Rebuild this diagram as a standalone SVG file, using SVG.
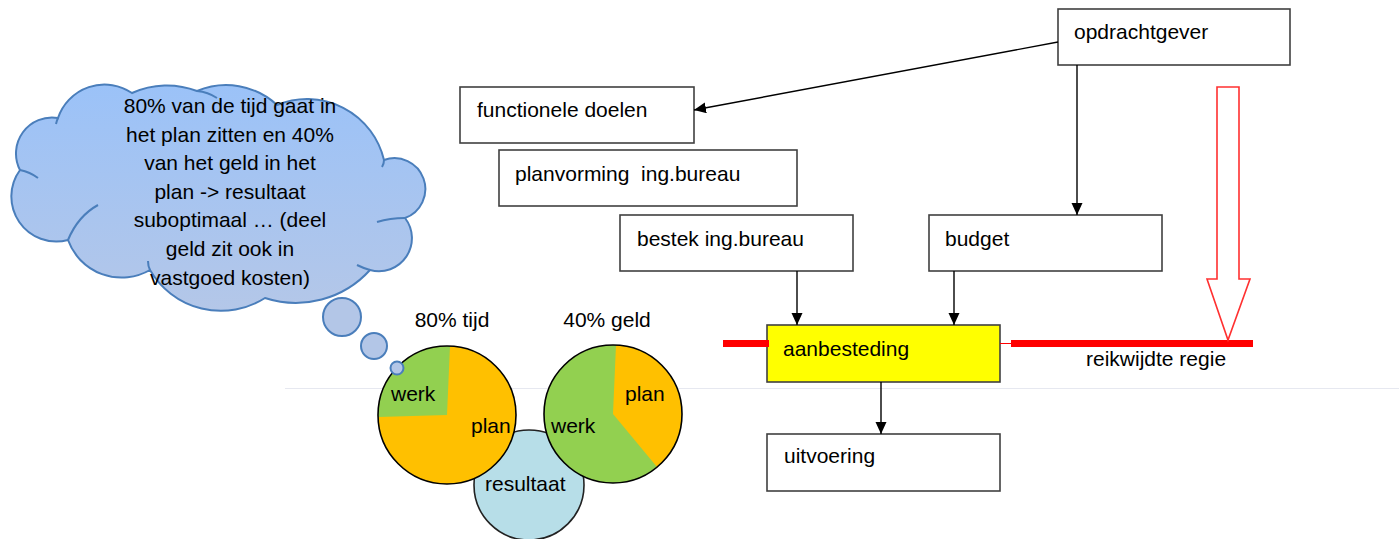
<svg xmlns="http://www.w3.org/2000/svg" width="1399" height="539" viewBox="0 0 1399 539">
<defs>
<style>
text{font-family:"Liberation Sans",Arial,sans-serif;font-size:21px;fill:#000}
.box{fill:#fff;stroke:#404040;stroke-width:1.6}
.con{fill:none;stroke:#000;stroke-width:1.4}
.pie{stroke:#000;stroke-width:1.6;fill:none}
.bub{fill:#B3C6E7;stroke:#4A7EBB;stroke-width:2}
.mid{text-anchor:middle}
</style>
<linearGradient id="cg" x1="0" y1="0" x2="0" y2="1">
<stop offset="0" stop-color="#9BC2F8"/>
<stop offset="1" stop-color="#B4C7E8"/>
</linearGradient>
<marker id="ah" markerUnits="userSpaceOnUse" markerWidth="13" markerHeight="12" refX="12" refY="5.5" orient="auto">
<path d="M0,0 L12,5.5 L0,11 Z" fill="#000"/>
</marker>
</defs>
<rect width="1399" height="539" fill="#fff"/>
<line x1="285" y1="388.5" x2="1399" y2="388.5" stroke="#E6E8F0" stroke-width="1"/>

<g id="cloud">
<path d="M20,170 A36,36 0 0 1 58,118 A49,49 0 0 1 132,93 A84,84 0 0 1 197,91 A75,75 0 0 1 277,105 A79,79 0 0 1 384,160 A30,30 0 0 1 405,218 A33,33 0 0 1 370,270 A100,100 0 0 1 265,298 A82,82 0 0 1 150,270 A57,57 0 0 1 68,240 A45,45 0 0 1 20,170 Z" fill="url(#cg)" stroke="#4A7EBB" stroke-width="2"/>
<path d="M20,170 Q30,172 38,178 M68,240 Q78,216 98,205 M150,270 Q148,266 148,261 M370,270 Q363,268 357,265 M405,218 Q390,218 377,222 M384,160 Q384,164 382,167 M58,118 Q57,120 56,124 M197,91 Q208,92 217,98" fill="none" stroke="#4A7EBB" stroke-width="2"/>
<text class="mid" x="230" y="113">80% van de tijd gaat in</text>
<text class="mid" x="230" y="142">het plan zitten en 40%</text>
<text class="mid" x="230" y="170">van het geld in het</text>
<text class="mid" x="230" y="199">plan -&gt; resultaat</text>
<text class="mid" x="230" y="227">suboptimaal … (deel</text>
<text class="mid" x="230" y="256">geld zit ook in</text>
<text class="mid" x="230" y="285">vastgoed kosten)</text>
</g>

<g id="resultaat">
<circle cx="529" cy="485" r="55" fill="#B7DEE8" stroke="#222" stroke-width="1.6"/>
<text x="485" y="491">resultaat</text>
</g>

<g id="pie-tijd">
<circle cx="447" cy="415" r="69" fill="#FFC000"/>
<path d="M447,415 L378.03,417 A69,69 0 0 1 450,346.07 Z" fill="#92D050"/>
<circle class="pie" cx="447" cy="415" r="69"/>
<text class="mid" x="452" y="327">80% tijd</text>
<text x="391" y="401">werk</text>
<text x="471" y="433">plan</text>
</g>

<g id="pie-geld">
<circle cx="613" cy="414" r="69" fill="#92D050"/>
<path d="M613,414 L616,345.07 A69,69 0 0 1 657,467 Z" fill="#FFC000"/>
<circle class="pie" cx="613" cy="414" r="69"/>
<text class="mid" x="607" y="327">40% geld</text>
<text x="625" y="401">plan</text>
<text x="551" y="433">werk</text>
</g>

<g id="bubbles">
<circle class="bub" cx="342" cy="317" r="19"/>
<circle class="bub" cx="374" cy="346" r="13"/>
<circle class="bub" cx="397" cy="368" r="6.5"/>
</g>

<g id="opdrachtgever">
<rect class="box" x="1058" y="9" width="232" height="56"/>
<text x="1074" y="39">opdrachtgever</text>
</g>
<g id="functionele-doelen">
<rect class="box" x="460" y="87" width="234" height="56"/>
<text x="477" y="117">functionele doelen</text>
</g>
<g id="planvorming">
<rect class="box" x="499" y="150" width="298" height="56"/>
<text x="515" y="181" xml:space="preserve">planvorming  ing.bureau</text>
</g>
<g id="bestek">
<rect class="box" x="620" y="215" width="233" height="56"/>
<text x="637" y="246">bestek ing.bureau</text>
</g>
<g id="budget">
<rect class="box" x="929" y="215" width="233" height="56"/>
<text x="945" y="246">budget</text>
</g>
<g id="aanbesteding">
<rect x="767" y="325" width="233" height="57" fill="#FFFF00" stroke="#404040" stroke-width="1.6"/>
<text x="783" y="356">aanbesteding</text>
</g>
<g id="uitvoering">
<rect class="box" x="767" y="434" width="233" height="57"/>
<text x="784" y="463">uitvoering</text>
</g>

<g id="regie">
<line x1="723" y1="343.5" x2="769" y2="343.5" stroke="#FF0000" stroke-width="7"/>
<line x1="1000" y1="343.5" x2="1011" y2="343.5" stroke="#FF0000" stroke-width="1"/>
<line x1="1011" y1="343.5" x2="1253" y2="343.5" stroke="#FF0000" stroke-width="7"/>
<polygon points="1217,87 1239,87 1239,279 1250,279 1228,340 1207,279 1217,279" fill="#fff" stroke="#FF3030" stroke-width="1.6"/>
<text x="1086" y="366">reikwijdte regie</text>
</g>

<g id="connectors">
<line class="con" x1="1058" y1="42" x2="694" y2="110" marker-end="url(#ah)"/>
<line class="con" x1="1077" y1="65" x2="1077" y2="215" marker-end="url(#ah)"/>
<line class="con" x1="797" y1="271" x2="797" y2="325" marker-end="url(#ah)"/>
<line class="con" x1="954" y1="271" x2="954" y2="325" marker-end="url(#ah)"/>
<line class="con" x1="881" y1="382" x2="881" y2="434" marker-end="url(#ah)"/>
</g>
</svg>
